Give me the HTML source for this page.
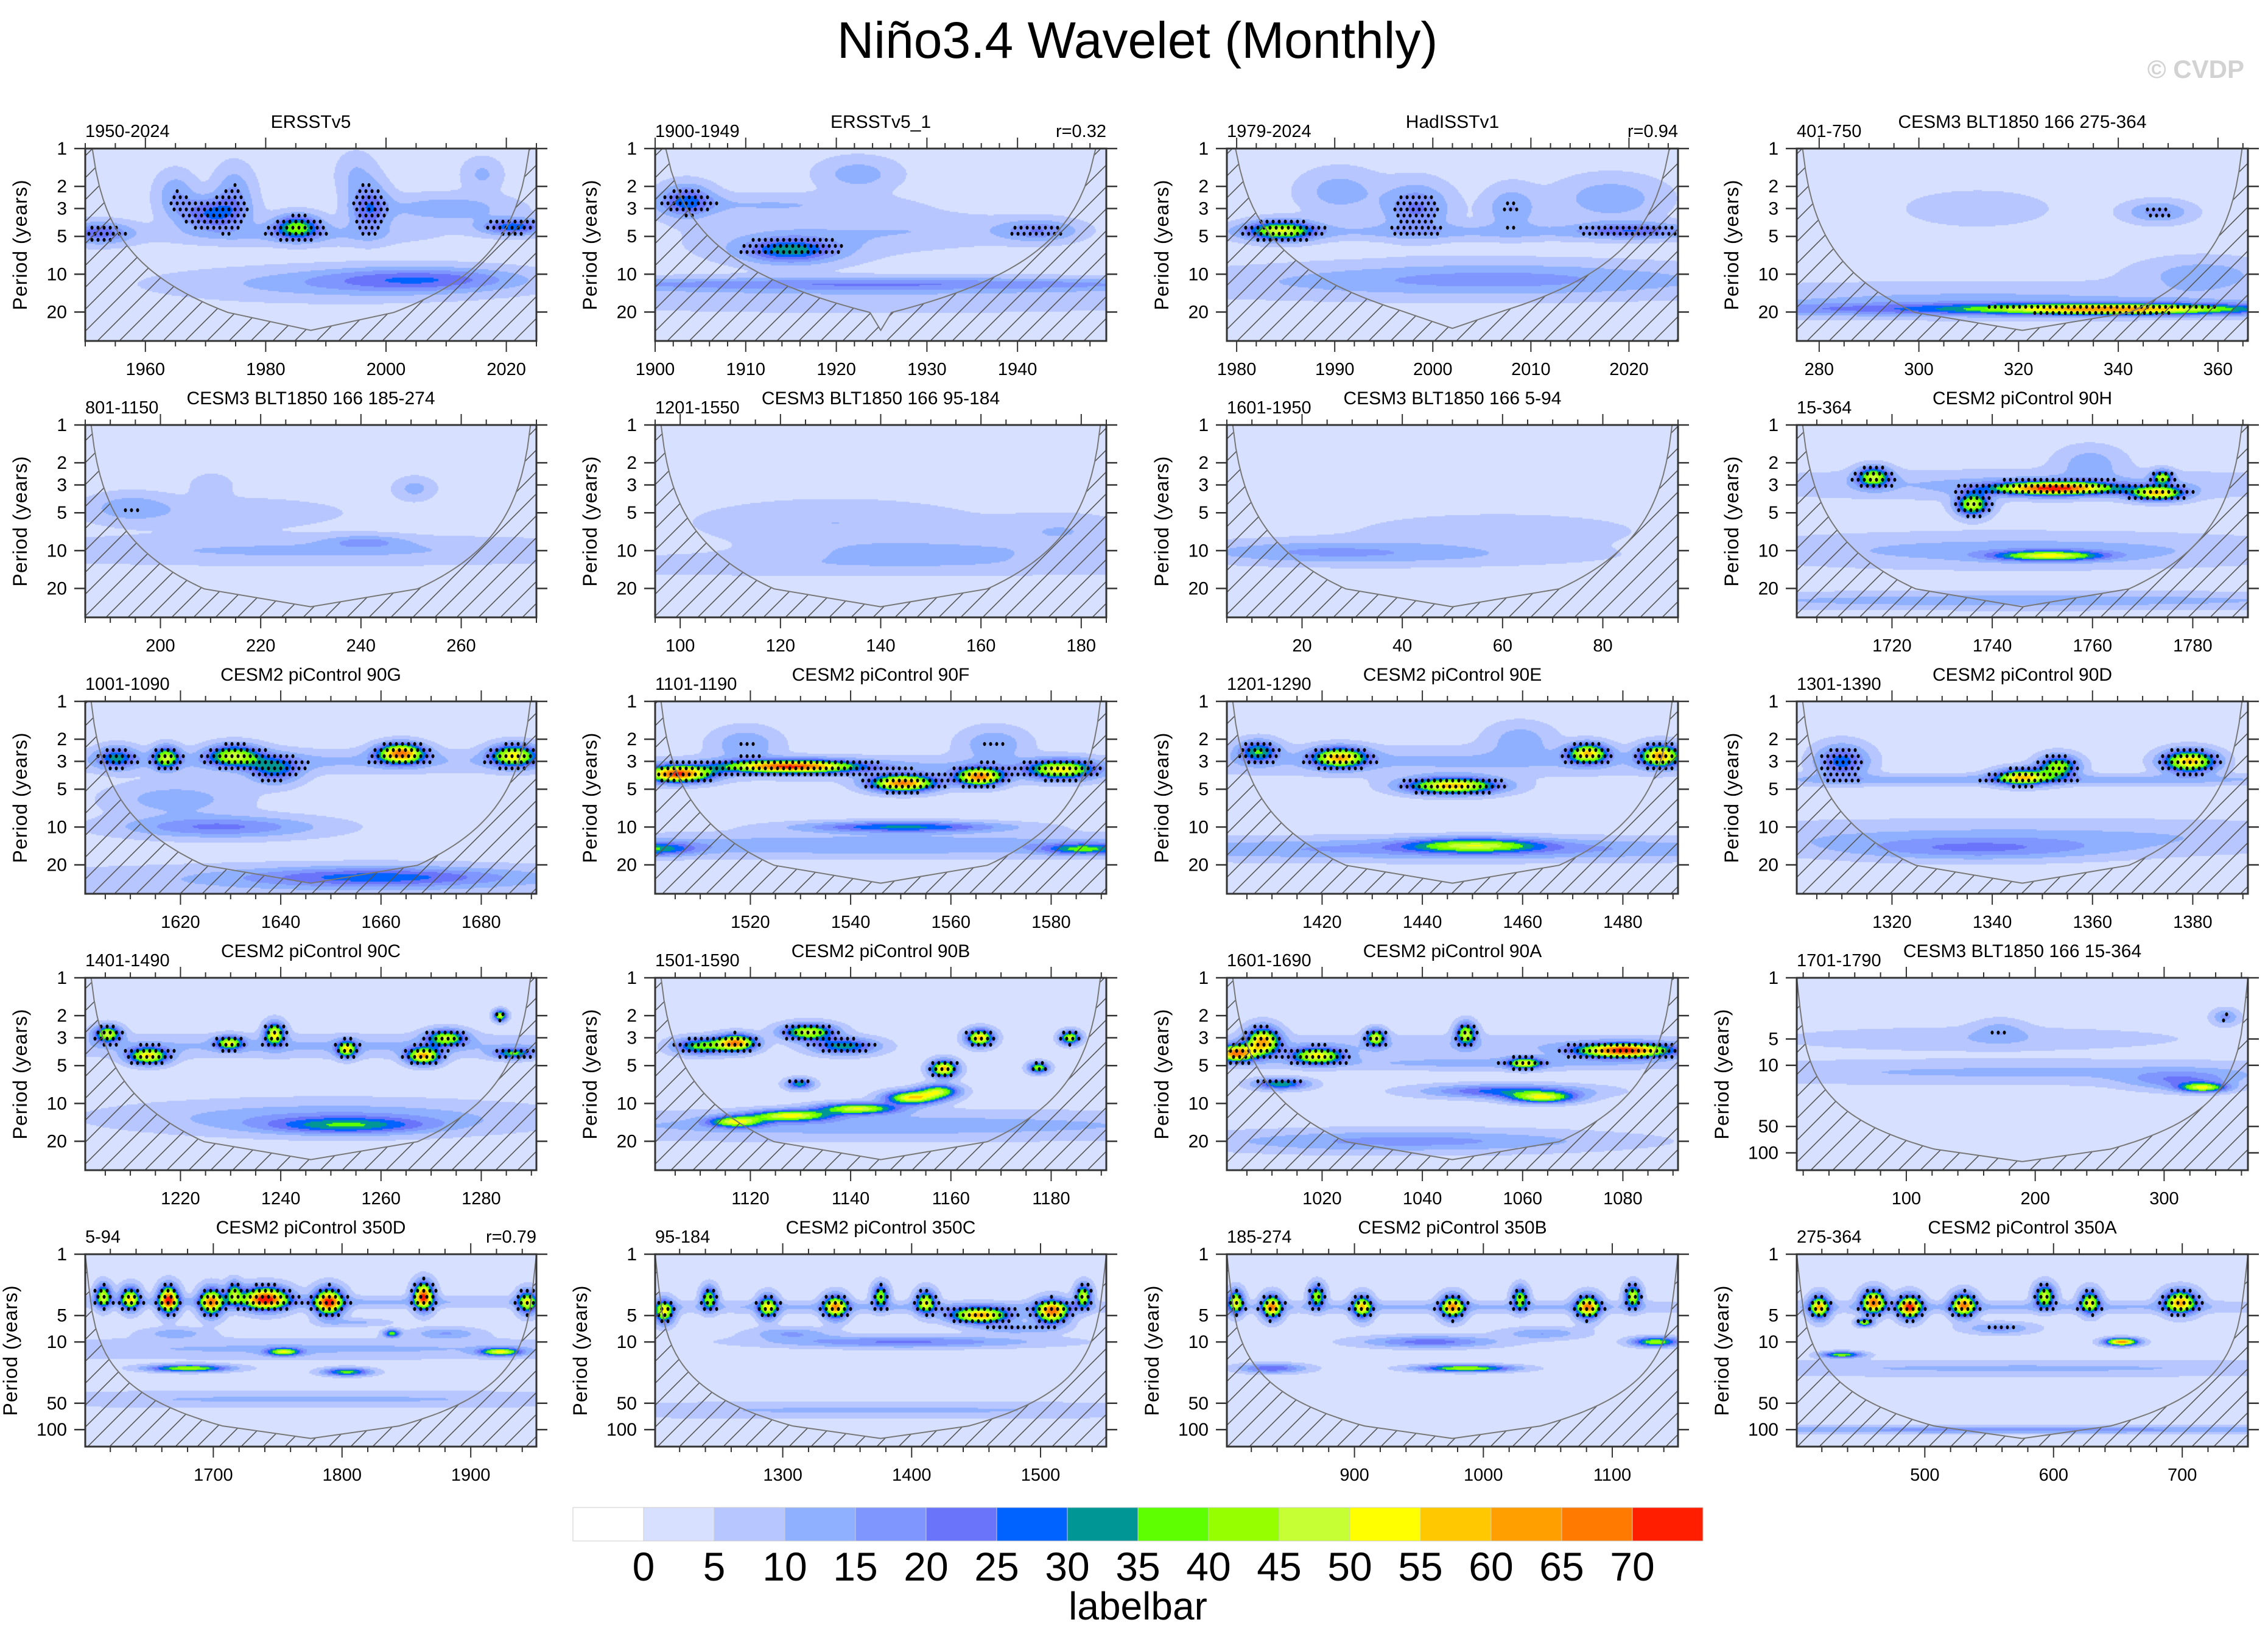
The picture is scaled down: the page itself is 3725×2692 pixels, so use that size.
<!DOCTYPE html>
<html><head><meta charset="utf-8"><title>Niño3.4 Wavelet (Monthly)</title>
<style>
html,body{margin:0;padding:0;background:#fff;}
#wrap{position:relative;width:3725px;height:2692px;overflow:hidden;}
canvas,svg{position:absolute;left:0;top:0;}
text{font-family:"Liberation Sans",sans-serif;fill:#000;}
</style></head>
<body>
<div id="wrap">
<canvas id="field" width="3725" height="2692"></canvas>
<svg id="chart" width="3725" height="2692" xmlns="http://www.w3.org/2000/svg">
<defs>
<pattern id="hatch" patternUnits="userSpaceOnUse" width="36" height="36">
<path d="M0,36 L36,0 M-9,9 L9,-9 M27,45 L45,27" stroke="#555" stroke-width="1.6"/>
</pattern>
</defs>
<text x="1868" y="95" font-size="84" text-anchor="middle">Niño3.4 Wavelet (Monthly)</text>
<text x="3686" y="128" font-size="42" font-weight="bold" text-anchor="end" style="fill:#d2d2d2">© CVDP</text>
</svg>
</div>
<script>
// ---- data ----
const rangeLabels = ['1950-2024','1900-1949','1979-2024','401-750','801-1150','1201-1550','1601-1950','15-364','1001-1090','1101-1190','1201-1290','1301-1390','1401-1490','1501-1590','1601-1690','1701-1790','5-94','95-184','185-274','275-364'];
const panelTitles = ['ERSSTv5','ERSSTv5_1','HadISSTv1','CESM3 BLT1850 166 275-364','CESM3 BLT1850 166 185-274','CESM3 BLT1850 166 95-184','CESM3 BLT1850 166 5-94','CESM2 piControl 90H','CESM2 piControl 90G','CESM2 piControl 90F','CESM2 piControl 90E','CESM2 piControl 90D','CESM2 piControl 90C','CESM2 piControl 90B','CESM2 piControl 90A','CESM3 BLT1850 166 15-364','CESM2 piControl 350D','CESM2 piControl 350C','CESM2 piControl 350B','CESM2 piControl 350A'];
const corrLabels = ['','r=0.32','r=0.94','','','','','','','','','','','','','','r=0.79','','',''];
const xStart = [1950,1900,1979,275.5,185,95,5,1701,1601,1501,1401,1301,1201,1101,1001,15,1600.5,1201,801,400.5];
const xEnd   = [2025,1949.8,2025,366,275,185,95,1791,1691,1591,1491,1391,1291,1191,1091,365,1951,1551,1151,751];
const xMajor = [20,10,10,20,20,20,20,20,20,20,20,20,20,20,20,100,100,100,100,100];
const periodMax = [34,34,34,34,34,34,34,34,34,34,34,34,34,34,34,158,156,156,156,156];
const coiSlope = [0.85,0.85,1.1,0.85,0.85,0.85,0.85,0.85,0.85,0.85,0.85,0.85,0.85,0.85,0.85,0.85,0.85,0.85,0.85,0.85];
const coiCap = [28,28,27,28,28,28,28,28,28,28,28,28,28,28,28,126,126,126,126,126];
const levelColors = ['#ffffff','#d7e1ff','#b7c6ff','#8fb0ff','#7f96ff','#6a74fa','#0062ff','#009696','#5eff00','#96ff00','#c6ff33','#ffff00','#ffc800','#ffa000','#ff7a00','#ff1e00'];
const levelLabels = ['0','5','10','15','20','25','30','35','40','45','50','55','60','65','70'];
// blobs: [time fraction, period (yr), power, time width (fraction), period width (octaves)]
const panelBlobs = [
[[0.47,4.2,33,0.035,0.22],[0.28,3.3,22,0.05,0.3],[0.63,3.0,20,0.03,0.45],[0.45,4.8,8,0.2,0.2],[0.95,4.2,25,0.05,0.15],[0.03,4.7,20,0.05,0.2],[0.75,11,17,0.15,0.22],[0.55,12,9,0.25,0.3],[0.2,2.3,11,0.03,0.4],[0.33,2.3,12,0.03,0.5],[0.8,3,11,0.1,0.25],[0.88,1.6,8,0.03,0.3],[0.6,1.6,7,0.03,0.4]],
[[0.07,2.6,22,0.04,0.3],[0.25,2.8,7,0.2,0.2],[0.3,6.5,25,0.07,0.22],[0.3,5.5,7,0.15,0.4],[0.5,12,14,0.6,0.12],[0.5,15,6,0.6,0.3],[0.85,4.5,16,0.06,0.2],[0.45,1.6,10,0.06,0.3],[0.6,4.5,6,0.15,0.3]],
[[0.12,4.5,42,0.05,0.18],[0.5,4.6,8,0.45,0.15],[0.42,3,18,0.05,0.45],[0.6,10.5,9,0.3,0.3],[0.5,12,6,0.6,0.3],[0.85,2.5,11,0.08,0.4],[0.25,2.2,10,0.06,0.4],[0.9,4.5,16,0.08,0.15],[0.63,3,12,0.04,0.4]],
[[0.7,19,42,0.2,0.1],[0.5,19,16,0.6,0.12],[0.4,16,8,0.5,0.3],[0.8,3.2,14,0.05,0.2],[0.4,3,7,0.1,0.3],[0.9,10,10,0.1,0.3]],
[[0.5,10,8,0.5,0.25],[0.62,8.5,10,0.06,0.12],[0.1,4.5,9,0.06,0.25],[0.3,5,5,0.2,0.3],[0.73,3.2,9,0.03,0.2],[0.28,3,6,0.03,0.2]],
[[0.4,6,7,0.2,0.4],[0.6,10,8,0.2,0.2],[0.5,13,6,0.6,0.2],[0.9,7,7,0.1,0.3]],
[[0.2,10,9,0.2,0.2],[0.4,11,6,0.3,0.2],[0.6,7,6,0.2,0.3]],
[[0.57,3.2,65,0.09,0.12],[0.39,4.3,45,0.025,0.2],[0.17,2.6,42,0.025,0.18],[0.8,3.5,50,0.04,0.13],[0.81,2.6,40,0.015,0.12],[0.5,3,8,0.45,0.25],[0.56,11,42,0.08,0.09],[0.5,10,10,0.4,0.3],[0.5,25,10,0.6,0.15],[0.65,2,10,0.05,0.3]],
[[0.07,2.8,25,0.03,0.2],[0.18,2.8,40,0.02,0.2],[0.33,2.7,40,0.04,0.2],[0.42,3.5,25,0.04,0.25],[0.7,2.6,62,0.035,0.18],[0.95,2.7,48,0.035,0.2],[0.5,3,8,0.5,0.2],[0.3,10,18,0.15,0.2],[0.65,25,20,0.2,0.18],[0.5,27,6,0.6,0.3],[0.2,6,10,0.1,0.3]],
[[0.05,3.8,65,0.05,0.15],[0.3,3.3,62,0.1,0.12],[0.55,4.5,62,0.05,0.15],[0.72,4,60,0.035,0.16],[0.9,3.5,45,0.05,0.18],[0.5,3.4,8,0.5,0.2],[0.55,10,28,0.15,0.1],[0.0,15,25,0.06,0.12],[0.95,15,28,0.06,0.1],[0.5,14,12,0.6,0.2],[0.2,2.2,12,0.05,0.3],[0.75,2.2,12,0.05,0.3]],
[[0.25,2.8,52,0.04,0.18],[0.5,4.7,55,0.07,0.15],[0.8,2.6,50,0.03,0.18],[0.96,2.7,55,0.03,0.2],[0.5,3,8,0.5,0.25],[0.55,14,35,0.1,0.13],[0.5,15,14,0.6,0.2],[0.07,2.5,30,0.03,0.2],[0.65,2,10,0.05,0.3]],
[[0.5,4,48,0.04,0.15],[0.87,3,55,0.04,0.2],[0.58,3.3,40,0.03,0.2],[0.5,4.2,10,0.6,0.1],[0.4,15,14,0.2,0.2],[0.5,12,8,0.6,0.3],[0.1,3,25,0.04,0.3]],
[[0.05,2.8,45,0.02,0.15],[0.14,4.2,50,0.03,0.15],[0.32,3.3,42,0.02,0.12],[0.42,2.8,50,0.015,0.2],[0.58,3.7,45,0.015,0.15],[0.75,4.2,55,0.025,0.15],[0.8,3,40,0.03,0.15],[0.92,2,45,0.01,0.1],[0.95,4,30,0.03,0.1],[0.5,3.5,8,0.6,0.2],[0.58,15,24,0.12,0.15],[0.55,13,12,0.3,0.3]],
[[0.18,3.3,60,0.03,0.15],[0.1,3.5,35,0.04,0.15],[0.34,2.7,45,0.04,0.15],[0.42,3.5,30,0.05,0.15],[0.72,3,55,0.02,0.15],[0.92,3,45,0.015,0.12],[0.64,5.3,55,0.02,0.15],[0.85,5.2,40,0.015,0.1],[0.18,14,42,0.04,0.1],[0.3,12.5,45,0.06,0.1],[0.45,11,45,0.06,0.1],[0.57,9,52,0.04,0.12],[0.63,8,40,0.03,0.12],[0.32,7,30,0.02,0.1],[0.5,15,10,0.6,0.25]],
[[0.02,4,62,0.03,0.15],[0.08,3.2,55,0.025,0.25],[0.2,4.2,48,0.04,0.15],[0.33,3,45,0.015,0.15],[0.53,2.8,45,0.015,0.2],[0.66,4.8,42,0.025,0.1],[0.88,3.8,68,0.07,0.13],[0.6,4.8,9,0.3,0.12],[0.7,9,42,0.05,0.1],[0.62,8,25,0.12,0.12],[0.12,7,32,0.04,0.1],[0.4,20,14,0.3,0.2],[0.5,3.5,6,0.6,0.2]],
[[0.9,18,42,0.035,0.12],[0.5,12,8,0.6,0.3],[0.4,5,6,0.3,0.3],[0.85,15,14,0.08,0.25],[0.45,4,8,0.04,0.3],[0.95,2.8,14,0.02,0.2]],
[[0.185,3.3,68,0.015,0.35],[0.28,3.5,58,0.018,0.35],[0.4,3.2,68,0.035,0.3],[0.54,3.5,65,0.022,0.35],[0.75,3,68,0.015,0.35],[0.04,3,45,0.012,0.3],[0.1,3.2,48,0.015,0.3],[0.33,2.8,35,0.012,0.3],[0.98,3.5,45,0.015,0.3],[0.44,13,42,0.025,0.1],[0.23,20,42,0.06,0.09],[0.58,22,35,0.035,0.1],[0.92,13,45,0.03,0.1],[0.68,8,35,0.012,0.1],[0.5,3.5,8,0.6,0.15],[0.5,12,8,0.6,0.25],[0.5,45,8,0.6,0.2],[0.2,8,10,0.05,0.15],[0.8,8,12,0.05,0.15],[0.6,6,8,0.05,0.1]],
[[0.02,4.5,48,0.015,0.3],[0.4,4,55,0.018,0.3],[0.72,5,58,0.045,0.2],[0.88,4.5,62,0.025,0.3],[0.25,4,45,0.015,0.3],[0.6,3.5,45,0.015,0.3],[0.12,3.2,40,0.012,0.3],[0.5,3,40,0.012,0.3],[0.95,3,45,0.012,0.3],[0.55,10,18,0.2,0.15],[0.5,4,8,0.6,0.15],[0.5,60,8,0.6,0.2],[0.3,8,12,0.06,0.15],[0.8,7,12,0.06,0.15]],
[[0.02,3.5,48,0.012,0.3],[0.1,4,58,0.015,0.3],[0.3,4,48,0.015,0.3],[0.5,4,55,0.018,0.3],[0.8,4,58,0.018,0.3],[0.2,3,40,0.012,0.3],[0.65,3.2,40,0.012,0.3],[0.9,3,45,0.012,0.3],[0.53,20,42,0.07,0.09],[0.95,10,40,0.035,0.12],[0.1,20,22,0.05,0.12],[0.45,10,20,0.1,0.15],[0.5,4,8,0.6,0.15],[0.7,8,12,0.06,0.15]],
[[0.17,3.5,62,0.018,0.3],[0.25,4,65,0.018,0.3],[0.37,3.8,58,0.018,0.3],[0.72,10,62,0.025,0.1],[0.15,6,42,0.012,0.1],[0.1,14,38,0.03,0.08],[0.05,4,52,0.015,0.3],[0.55,3,45,0.015,0.3],[0.85,3.5,55,0.025,0.3],[0.65,3.5,45,0.015,0.3],[0.5,100,14,0.6,0.1],[0.5,4,8,0.6,0.15],[0.5,20,8,0.6,0.2],[0.45,7,14,0.05,0.15]]
];

// ---- layout ----
const colLeft = [140,1076,2015,2951];
const rowTop = [244,698,1152,1606,2060];
const PW = 741, PH = 316;
const BASE = 3;
const SVGNS = 'http://www.w3.org/2000/svg';
const svg = document.getElementById('chart');
const ctx = document.getElementById('field').getContext('2d');

function mk(tag, attrs, parent){
  const e = document.createElementNS(SVGNS, tag);
  for (const k in attrs) e.setAttribute(k, attrs[k]);
  (parent||svg).appendChild(e);
  return e;
}
function levelIndex(v){ if (v < 0) return 0; return Math.min(15, Math.floor(v/5)+1); }
function hexRGB(h){ return [parseInt(h.substr(1,2),16),parseInt(h.substr(3,2),16),parseInt(h.substr(5,2),16)]; }
const rgbLevels = levelColors.map(hexRGB);

function power(blobs, tf, lp){
  let v = BASE;
  for (const b of blobs){
    const dt = (tf-b[0])/b[3], dp = (lp-Math.log2(b[1]))/b[4];
    v += b[2]*Math.exp(-0.5*(dt*dt+dp*dp));
  }
  return v;
}

for (let i=0;i<20;i++){
  const L = colLeft[i%4], T = rowTop[Math.floor(i/4)];
  const x0 = xStart[i], x1 = xEnd[i], pmax = periodMax[i];
  const xs = t => L + (t-x0)/(x1-x0)*PW;
  const ys = p => T + Math.log(p)/Math.log(pmax)*PH;
  const pAt = y => Math.exp((y-T)/PH*Math.log(pmax));
  const blobs = panelBlobs[i];

  const W2 = Math.ceil(PW/2), H2 = Math.ceil(PH/2);
  const off = document.createElement('canvas'); off.width=W2; off.height=H2;
  const octx = off.getContext('2d'); const img = octx.createImageData(W2,H2);
  for (let yy=0; yy<H2; yy++){
    const lp = Math.log2(pAt(T+yy*2+1));
    for (let xx=0; xx<W2; xx++){
      const tf = (xx*2+1)/PW;
      const c = rgbLevels[levelIndex(power(blobs, tf, lp))];
      const k = (yy*W2+xx)*4;
      img.data[k]=c[0]; img.data[k+1]=c[1]; img.data[k+2]=c[2]; img.data[k+3]=255;
    }
  }
  octx.putImageData(img,0,0);
  ctx.imageSmoothingEnabled = false;
  ctx.drawImage(off, 0,0,W2,H2, L,T,W2*2,H2*2);

  const g = mk('g', {});
  
  

  const dg = mk('g', {}, g);
  
  
  let dpath = '';
  for (let y=T+10; y<T+PH-4; y+=10){
    const p = pAt(y), lp = Math.log2(p);
    const off2 = (Math.round((y-T)/10)%2)*5;
    for (let x=L+6+off2; x<L+PW-3; x+=10){
      const v = power(blobs, (x-L)/PW, lp);
      const ok = p <= 7 ? v >= 14 : (i===3 && v >= 36);
      if (ok) dpath += 'M'+(x-2.5)+','+y+'a2.5,3.2 0 1,0 5,0a2.5,3.2 0 1,0 -5,0';
    }
  }
  const dots = mk('path', {d:dpath, fill:'#000'}, dg);
  
  

  const span = x1-x0, k = coiSlope[i], cap = coiCap[i];
  const dLim = Math.min(span/2, 0.72*cap/k);
  const leftPts = [];
  const N = 40;
  for (let j=0;j<=N;j++){
    const d = dLim*j/N;
    const p = Math.max(1, k*d);
    leftPts.push([xs(x0+d), Math.max(T, ys(p))]);
  }
  const center = [xs(x0+span/2), Math.min(T+PH, ys(cap))];
  const rightPts = leftPts.slice().reverse().map(q => [2*center[0]-q[0], q[1]]);
  const curve = leftPts.concat([center], rightPts);
  const cstr = curve.map(q=>q[0].toFixed(1)+','+q[1].toFixed(1)).join(' L');
  const outside = 'M'+L+','+T+' L'+cstr+' L'+(L+PW)+','+T+' L'+(L+PW)+','+(T+PH)+' L'+L+','+(T+PH)+' Z';
  const hatch = mk('path', {d:outside, fill:'url(#hatch)'}, g);
  
  
  const coi = mk('path', {d:'M'+cstr, fill:'none', stroke:'#777', 'stroke-width':2}, g);
  
  

  const fr = mk('rect', {x:L, y:T, width:PW, height:PH, fill:'none', stroke:'#333', 'stroke-width':3}, g);
  
  

  const yticks = pmax > 50 ? [1,5,10,50,100] : [1,2,3,5,10,20];
  const ya = mk('g', {}, g);
  
  
  let tp = '';
  for (const p of yticks){
    const y = ys(p);
    tp += 'M'+(L-18)+','+y+'H'+L+'M'+(L+PW)+','+y+'H'+(L+PW+18);
    const t = mk('text', {x:L-30, y:y+10, 'font-size':30, 'text-anchor':'end'}, ya);
    t.textContent = p;
    
    
  }
  mk('path', {d:tp, stroke:'#333', 'stroke-width':2.5, fill:'none'}, ya);
  const ylx = pmax > 50 ? L-112 : L-96;
  const yl = mk('text', {x:ylx, y:T+PH/2, 'font-size':32, 'text-anchor':'middle', transform:'rotate(-90 '+ylx+' '+(T+PH/2)+')', 'letter-spacing':'1'}, ya);
  yl.textContent = 'Period (years)';
  
  

  const xa = mk('g', {}, g);
  
  
  const maj = xMajor[i], minr = maj===20 ? 5 : maj/5;
  let xp = '';
  for (let t = Math.ceil(x0/minr)*minr; t <= x1+1e-6; t += minr){
    const x = xs(t); const isMaj = Math.abs(t/maj - Math.round(t/maj)) < 1e-6;
    const len = isMaj ? 18 : 9;
    xp += 'M'+x+','+(T+PH)+'v'+len+'M'+x+','+T+'v'+(-len);
    if (isMaj){
      const lab = mk('text', {x:x, y:T+PH+56, 'font-size':29, 'text-anchor':'middle'}, xa);
      lab.textContent = t;
      
      
    }
  }
  mk('path', {d:xp, stroke:'#333', 'stroke-width':2, fill:'none'}, xa);

  const tt = mk('text', {x:L+PW/2, y:T-34, 'font-size':30, 'text-anchor':'middle'}, g);
  tt.textContent = panelTitles[i];
  
  
  const rl = mk('text', {x:L, y:T-19, 'font-size':29}, g);
  rl.textContent = rangeLabels[i];
  
  
  if (corrLabels[i]){
    const cl = mk('text', {x:L+PW, y:T-19, 'font-size':29, 'text-anchor':'end'}, g);
    cl.textContent = corrLabels[i];
    
    
  }
}

const lb = mk('g', {});


const LBX = 941, LBY = 2476, BW = 116, BH = 55;
levelColors.forEach((c, j) => {
  const r = mk('rect', {x:LBX+j*BW, y:LBY, width:BW, height:BH, fill:c, stroke:'#ccc', 'stroke-width':1}, lb);
  
  
});
levelLabels.forEach((s, j) => {
  const t = mk('text', {x:LBX+(j+1)*BW, y:2596, 'font-size':66, 'text-anchor':'middle'}, lb);
  t.textContent = s;
  
  
});
const lbt = mk('text', {x:1869, y:2660, 'font-size':64, 'text-anchor':'middle'}, lb);
lbt.textContent = 'labelbar';


</script>
</body></html>
